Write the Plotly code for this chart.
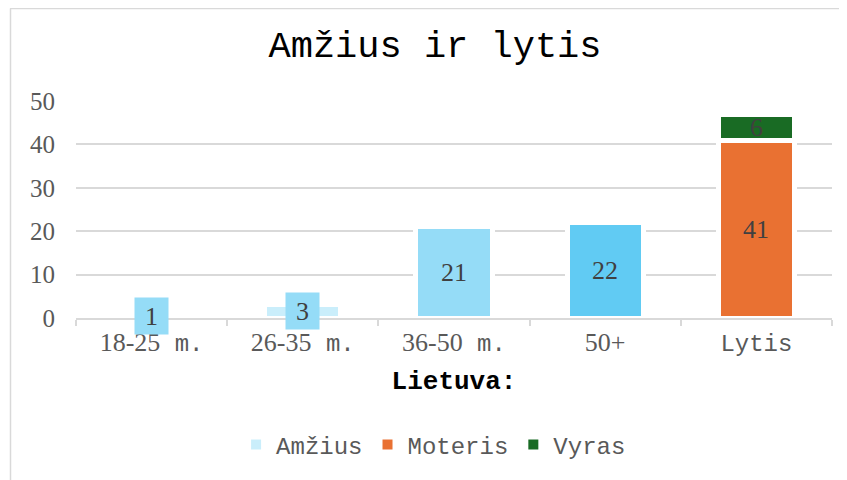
import plotly.graph_objects as go

# ---- data ----
categories = ["18-25 m.", "26-35 m.", "36-50 m.", "50+", "Lytis"]
tick_labels = [
    '18-25<span style="font-family:\'Liberation Mono\';font-size:24px"> m.</span>',
    '26-35<span style="font-family:\'Liberation Mono\';font-size:24px"> m.</span>',
    '36-50<span style="font-family:\'Liberation Mono\';font-size:24px"> m.</span>',
    '50+',
    '<span style="font-family:\'Liberation Mono\';font-size:24px">Lytis</span>',
]
age_cats = ["18-25 m.", "26-35 m.", "36-50 m.", "50+"]
age_values = [1, 3, 21, 22]
age_colors = ["#CAEEFB", "#CAEEFB", "#95DCF7", "#61CBF3"]
moteris_values = [41]
vyras_values = [6]
gender_cat = ["Lytis"]

MONO = "Liberation Mono, Courier New, monospace"
SERIF = "Liberation Serif, Times New Roman, serif"
GRID = "#d9d9d9"
LABEL = "#404040"
TICK = "#595959"

fig = go.Figure()
fig.add_trace(go.Bar(name="Amžius", x=age_cats, y=age_values,
                     marker=dict(color=age_colors, line=dict(color="white", width=5))))
fig.add_trace(go.Bar(name="Moteris", x=gender_cat, y=moteris_values,
                     marker=dict(color="#E97132", line=dict(color="white", width=5))))
fig.add_trace(go.Bar(name="Vyras", x=gender_cat, y=vyras_values,
                     marker=dict(color="#196B24", line=dict(color="white", width=5))))

# data labels (centred in each bar)
annotations = []
for c, v in zip(age_cats, age_values):
    small = v < 5
    annotations.append(dict(
        x=c, y=v / 2, xref="x", yref="y", text=str(v), showarrow=False,
        font=dict(family=SERIF, size=26, color=LABEL),
        bgcolor="#95DCF7" if small else None,
        width=31 if small else None, height=34 if small else None))
base = 0
for vals in (moteris_values, vyras_values):
    for c, v in zip(gender_cat, vals):
        annotations.append(dict(
            x=c, y=base + v / 2, xref="x", yref="y", text=str(v), showarrow=False,
            font=dict(family=SERIF, size=26, color=LABEL)))
    base += vals[0]

# page has an 8px body margin; figure sized to fit the window
OFF = 8
W, H = 847 - OFF, 480 - OFF
L, T = 76 - OFF, 101 - OFF
pw, ph = 756, 217
R = W - L - pw
B = H - T - ph
def px_x(p):
    return (p - OFF - L) / pw
def px_y(p):
    return (H - B - (p - OFF)) / ph

shapes = [
    dict(type="line", xref="paper", yref="paper", x0=px_x(10.5), x1=px_x(10.5),
         y0=px_y(8.5), y1=px_y(480), line=dict(color=GRID, width=1.5)),
    dict(type="line", xref="paper", yref="paper", x0=px_x(10), x1=px_x(847),
         y0=px_y(8.5), y1=px_y(8.5), line=dict(color=GRID, width=1.5)),
]

fig.update_layout(
    width=W, height=H,
    margin=dict(l=L, r=R, t=T, b=B, autoexpand=False),
    paper_bgcolor="white", plot_bgcolor="white",
    barmode="stack", bargap=0.495,
    title=dict(text="Amžius ir lytis", x=(435 - OFF) / W, xref="container", xanchor="center",
               y=1 - (44 - OFF) / H, yref="container", yanchor="middle",
               font=dict(family=MONO, size=37, color="#000000")),
    xaxis=dict(categoryorder="array", categoryarray=categories,
               tickmode="array", tickvals=categories, ticktext=tick_labels,
               tickfont=dict(family=SERIF, size=26, color=TICK),
               showline=True, linecolor=GRID, linewidth=1.5,
               ticks="outside", tickson="boundaries", ticklen=6, tickcolor=GRID, tickwidth=1.5,
               showgrid=False,
               title=dict(text="<b>Lietuva:</b>", font=dict(family=MONO, size=26, color="#000000"),
                          standoff=14)),
    yaxis=dict(range=[0, 50], dtick=10, tickfont=dict(family=SERIF, size=25, color=TICK),
               showgrid=True, gridcolor=GRID, gridwidth=1.5, zeroline=False,
               showline=False, ticks="", ticklabelstandoff=20),
    legend=dict(orientation="h", x=0.473, xanchor="center", y=px_y(445), yanchor="middle",
                font=dict(family=MONO, size=24, color=TICK), itemsizing="constant",
                traceorder="normal"),
    annotations=annotations,
    shapes=shapes,
)

fig.write_html("out.html")
